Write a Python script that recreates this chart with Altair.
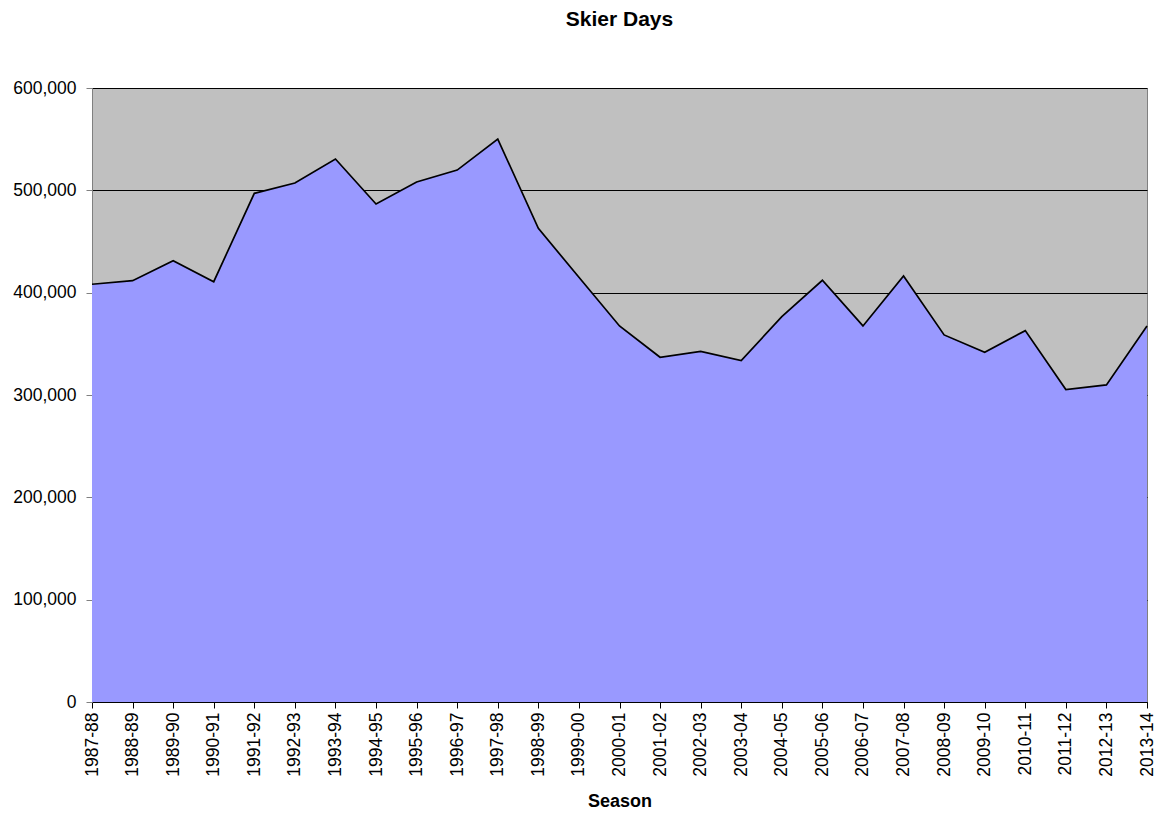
import altair as alt
import pandas as pd

seasons = [
    "1987-88", "1988-89", "1989-90", "1990-91", "1991-92", "1992-93", "1993-94",
    "1994-95", "1995-96", "1996-97", "1997-98", "1998-99", "1999-00", "2000-01",
    "2001-02", "2002-03", "2003-04", "2004-05", "2005-06", "2006-07", "2007-08",
    "2008-09", "2009-10", "2010-11", "2011-12", "2012-13", "2013-14",
]
skier_days = [
    408200, 411700, 431200, 410700, 497100, 507100, 530600,
    486600, 508100, 519800, 550100, 462900, 415000, 367500,
    336900, 342700, 333600, 376600, 412100, 367500, 416300,
    358700, 341800, 362900, 305300, 309900, 367500,
]
y_ticks = [0, 100000, 200000, 300000, 400000, 500000, 600000]

df = pd.DataFrame({"Season": seasons, "Skier Days": skier_days})

FONT = "Liberation Sans"

x_enc = alt.X(
    "Season:N",
    sort=seasons,
    scale=alt.Scale(type="point", padding=0),
    axis=alt.Axis(
        title="Season",
        titleFont=FONT,
        titleFontSize=18,
        titleFontWeight="bold",
        titleColor="black",
        titlePadding=16,
        labelAngle=270,
        labelAlign="right",
        labelBaseline="middle",
        labelFont=FONT,
        labelFontSize=17.5,
        labelColor="black",
        labelPadding=4,
        tickSize=6,
        tickColor="black",
        domainColor="black",
        grid=False,
    ),
)
y_enc = alt.Y(
    "Skier Days:Q",
    scale=alt.Scale(domain=[0, 600000], nice=False),
    axis=alt.Axis(
        title=None,
        values=y_ticks,
        format=",.0f",
        labelFont=FONT,
        labelFontSize=17.5,
        labelColor="black",
        labelPadding=10,
        tickSize=6,
        tickColor="#808080",
        domainColor="#808080",
        grid=True,
        gridColor="black",
        gridWidth=1,
        gridOpacity=1,
    ),
)

area = alt.Chart(df).mark_area(color="#9999FF", opacity=1).encode(x=x_enc, y=y_enc)
line = alt.Chart(df).mark_line(color="black", strokeWidth=1.7).encode(x=x_enc, y=y_enc)

chart = (
    alt.layer(area, line)
    .properties(
        width=1055,
        height=614,
        autosize=alt.AutoSizeParams(type="none"),
        padding={"left": 84, "top": 80, "right": 12, "bottom": 109},
        title=alt.TitleParams(
            "Skier Days",
            font=FONT,
            fontSize=21,
            fontWeight="bold",
            color="black",
            anchor="middle",
            offset=49,
        ),
    )
    .configure(background="white")
    .configure_view(fill="#C0C0C0", stroke="#808080", strokeWidth=1)
)

chart.save("out.html", embed_options={"renderer": "svg", "actions": False})
